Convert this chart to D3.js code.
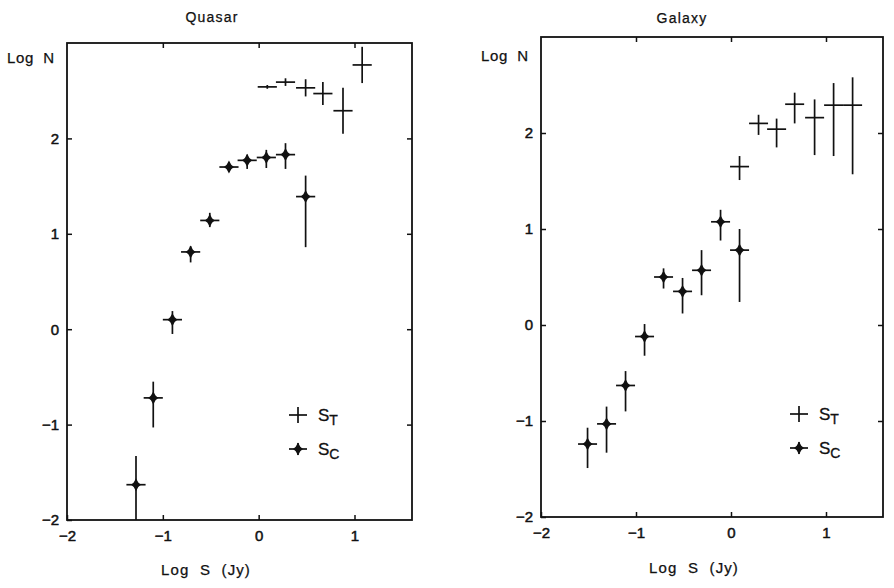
<!DOCTYPE html>
<html><head><meta charset="utf-8">
<script src="https://cdn.jsdelivr.net/npm/d3@7"></script>
<style>body{margin:0;background:#fff}svg text{font-family:"Liberation Sans",Arial,sans-serif;fill:#111;white-space:pre}</style>
</head><body>
<svg id="c" width="894" height="588"></svg>
<script>
// ---- data ----
const xTicks = [-2, -1, 0, 1];
const yTicks = [-2, -1, 0, 1, 2];

const quasarTX  = [0.09, 0.28, 0.49, 0.67, 0.88, 1.08];
const quasarTY  = [2.54, 2.59, 2.53, 2.47, 2.29, 2.77];
const quasarTLo = [2.52, 2.55, 2.44, 2.35, 2.05, 2.58];
const quasarTHi = [2.56, 2.63, 2.62, 2.59, 2.53, 2.96];

const quasarCX  = [-1.28, -1.10, -0.90, -0.71, -0.51, -0.31, -0.12, 0.08, 0.28, 0.49];
const quasarCY  = [-1.63, -0.72, 0.10, 0.81, 1.14, 1.70, 1.77, 1.80, 1.83, 1.39];
const quasarCLo = [-2.00, -1.03, -0.05, 0.70, 1.07, 1.65, 1.68, 1.69, 1.68, 0.86];
const quasarCHi = [-1.33, -0.55, 0.19, 0.87, 1.22, 1.75, 1.83, 1.88, 1.95, 1.61];

const galaxyTX  = [0.09, 0.29, 0.48, 0.67, 0.88, 1.08, 1.28];
const galaxyTY  = [1.65, 2.10, 2.04, 2.30, 2.16, 2.29, 2.29];
const galaxyTLo = [1.51, 1.98, 1.85, 2.10, 1.77, 1.76, 1.57];
const galaxyTHi = [1.76, 2.19, 2.15, 2.42, 2.35, 2.52, 2.58];

const galaxyCX  = [-1.51, -1.31, -1.11, -0.91, -0.71, -0.51, -0.31, -0.11, 0.09];
const galaxyCY  = [-1.24, -1.03, -0.63, -0.12, 0.50, 0.35, 0.57, 1.075, 0.78];
const galaxyCLo = [-1.49, -1.33, -0.90, -0.32, 0.38, 0.12, 0.31, 0.88, 0.24];
const galaxyCHi = [-1.07, -0.85, -0.48, 0.01, 0.59, 0.49, 0.78, 1.20, 1.00];

const binHalf = 0.1;

const panels = [
  {title: "Quasar", x0: 67, x1: 412, y0: 43, y1: 520, titleX: 212, titleY: 22, logNX: 7, logNY: 63,
   xlabX: 206, xlabY: 575, legX: 298, legY: 415,
   T: {x: quasarTX, y: quasarTY, lo: quasarTLo, hi: quasarTHi},
   C: {x: quasarCX, y: quasarCY, lo: quasarCLo, hi: quasarCHi}},
  {title: "Galaxy", x0: 541, x1: 883, y0: 37, y1: 517, titleX: 682, titleY: 23, logNX: 481, logNY: 61,
   xlabX: 694, xlabY: 573, legX: 799, legY: 414,
   T: {x: galaxyTX, y: galaxyTY, lo: galaxyTLo, hi: galaxyTHi},
   C: {x: galaxyCX, y: galaxyCY, lo: galaxyCLo, hi: galaxyCHi}}
];

const svg = d3.select("#c");
const starPath = "M0,-6.5L2.3,-2.3L5,0L2.3,2.3L0,6.5L-2.3,2.3L-5,0L-2.3,-2.3Z";
const ink = "#111";

panels.forEach(p => {
  const x = d3.scaleLinear().domain([-2, 1.6]).range([p.x0, p.x1]);
  const y = d3.scaleLinear().domain([-2, 3]).range([p.y1, p.y0]);
  const g = svg.append("g");

  // frame
  g.append("rect").attr("x", p.x0).attr("y", p.y0).attr("width", p.x1 - p.x0).attr("height", p.y1 - p.y0)
    .attr("fill", "none").attr("stroke", ink).attr("stroke-width", 1.8);

  const fmt = d => d < 0 ? "\u2212" + Math.abs(d) : String(d);
  const axB = g.append("g").attr("transform", `translate(0,${p.y1})`)
    .call(d3.axisBottom(x).tickValues(xTicks).tickSizeInner(-5).tickSizeOuter(0).tickPadding(10).tickFormat(fmt));
  const axT = g.append("g").attr("transform", `translate(0,${p.y0})`)
    .call(d3.axisTop(x).tickValues(xTicks.slice(1)).tickSizeInner(-5).tickSizeOuter(0).tickFormat(""));
  const axL = g.append("g").attr("transform", `translate(${p.x0},0)`)
    .call(d3.axisLeft(y).tickValues(yTicks).tickSizeInner(-5).tickSizeOuter(0).tickPadding(8).tickFormat(fmt));
  const axR = g.append("g").attr("transform", `translate(${p.x1},0)`)
    .call(d3.axisRight(y).tickValues(yTicks.slice(1)).tickSizeInner(-5).tickSizeOuter(0).tickFormat(""));
  [axB, axT, axL, axR].forEach(a => {
    a.select(".domain").remove();
    a.selectAll(".tick line").attr("stroke", ink).attr("stroke-width", 1.5);
    a.selectAll("text").attr("font-size", 15).attr("fill", ink).attr("stroke", ink).attr("stroke-width", 0.5)
      .attr("font-family", '"Liberation Sans",Arial,sans-serif');
  });

  // titles & labels
  g.append("text").attr("x", p.titleX).attr("y", p.titleY).attr("text-anchor", "middle")
    .attr("font-size", 14).attr("letter-spacing", 1.2).attr("stroke", ink).attr("stroke-width", 0.25).text(p.title);
  g.append("text").attr("x", p.logNX).attr("y", p.logNY).attr("font-size", 15).attr("letter-spacing", 0.6)
    .attr("stroke", ink).attr("stroke-width", 0.25).text("Log  N");
  g.append("text").attr("x", p.xlabX).attr("y", p.xlabY).attr("text-anchor", "middle")
    .attr("font-size", 15).attr("letter-spacing", 1.1).attr("stroke", ink).attr("stroke-width", 0.25).text("Log  S  (Jy)");

  const err = (ser, cls) => {
    const idx = d3.range(ser.x.length);
    g.selectAll("line.h" + cls).data(idx).join("line")
      .attr("x1", i => x(ser.x[i] - binHalf)).attr("x2", i => x(ser.x[i] + binHalf))
      .attr("y1", i => y(ser.y[i])).attr("y2", i => y(ser.y[i]))
      .attr("stroke", ink).attr("stroke-width", 1.7);
    g.selectAll("line.v" + cls).data(idx).join("line")
      .attr("x1", i => x(ser.x[i])).attr("x2", i => x(ser.x[i]))
      .attr("y1", i => y(ser.lo[i])).attr("y2", i => y(ser.hi[i]))
      .attr("stroke", ink).attr("stroke-width", 1.7);
    return idx;
  };
  err(p.T, "T");
  const idxC = err(p.C, "C");
  g.selectAll("path.star").data(idxC).join("path")
    .attr("d", starPath)
    .attr("transform", i => `translate(${x(p.C.x[i])},${y(p.C.y[i])})`)
    .attr("fill", ink);

  // legend
  const lg = g.append("g").attr("transform", `translate(${p.legX},${p.legY})`);
  lg.append("line").attr("x1", -9).attr("x2", 9).attr("y1", 0).attr("y2", 0).attr("stroke", ink).attr("stroke-width", 1.7);
  lg.append("line").attr("x1", 0).attr("x2", 0).attr("y1", -8).attr("y2", 8).attr("stroke", ink).attr("stroke-width", 1.7);
  lg.append("line").attr("x1", -9).attr("x2", 9).attr("y1", 34).attr("y2", 34).attr("stroke", ink).attr("stroke-width", 1.7);
  lg.append("line").attr("x1", 0).attr("x2", 0).attr("y1", 28).attr("y2", 40).attr("stroke", ink).attr("stroke-width", 1.7);
  lg.append("path").attr("d", starPath).attr("transform", "translate(0,34)").attr("fill", ink);
  const t1 = lg.append("text").attr("x", 20).attr("y", 6).attr("font-size", 17).attr("stroke", ink).attr("stroke-width", 0.3);
  t1.append("tspan").text("S");
  t1.append("tspan").attr("dy", 4).attr("font-size", 14).text("T");
  const t2 = lg.append("text").attr("x", 20).attr("y", 40).attr("font-size", 17).attr("stroke", ink).attr("stroke-width", 0.3);
  t2.append("tspan").text("S");
  t2.append("tspan").attr("dy", 4).attr("font-size", 14).text("C");
});
</script>
</body></html>
